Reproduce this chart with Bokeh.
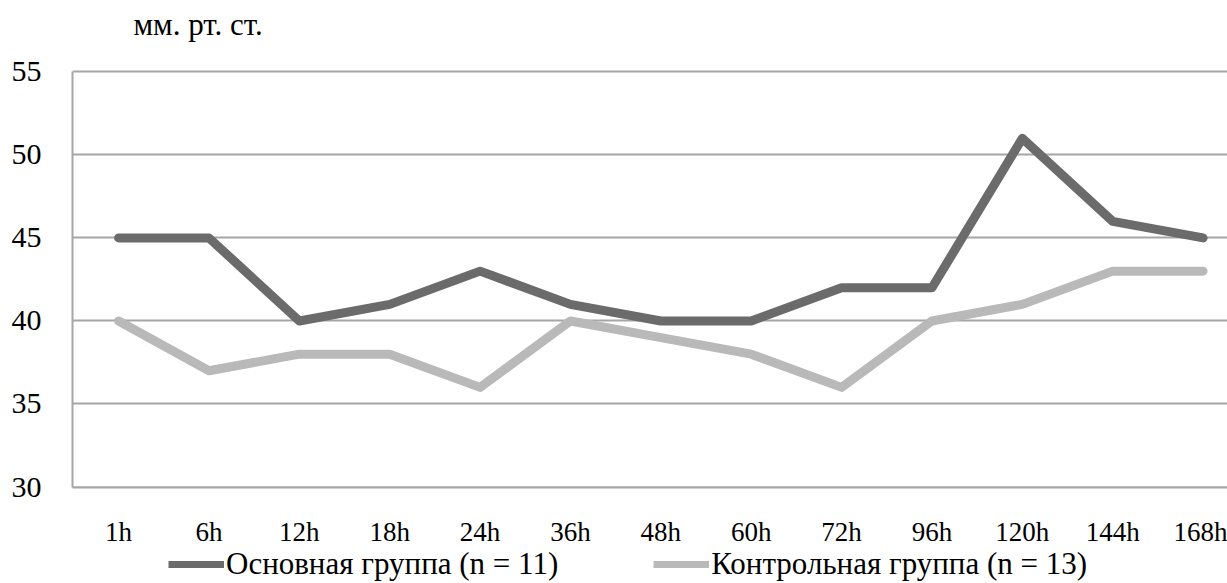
from bokeh.plotting import figure
from bokeh.layouts import column
from bokeh.models import Range1d, FixedTicker, Legend, LegendItem, Label
from bokeh.embed import file_html
from bokeh.resources import INLINE

categories = ["1h", "6h", "12h", "18h", "24h", "36h", "48h", "60h", "72h", "96h", "120h", "144h", "168h"]
main_group = [45, 45, 40, 41, 43, 41, 40, 40, 42, 42, 51, 46, 45]
control_group = [40, 37, 38, 38, 36, 40, 39, 38, 36, 40, 41, 43, 43]
y_ticks = [30, 35, 40, 45, 50, 55]
unit_label = "мм. рт. ст."
main_name = "Основная группа (n = 11)"
control_name = "Контрольная группа (n = 13)"

FONT = "Liberation Serif"
GRID = "#a6a6a6"
DARK = "#6b6b6b"
LIGHT = "#b9b9b9"

xs = list(range(len(categories)))

# main chart: frame reaches the top of the canvas so the unit label can sit inside it
p = figure(width=1227, height=543, frame_width=1155, frame_height=487,
           x_range=Range1d(-0.51, 12.27), y_range=Range1d(29.97, 59.30),
           output_backend="svg", toolbar_location=None,
           min_border_left=72, min_border_right=0, min_border_top=0, min_border_bottom=56)
p.outline_line_color = None
p.background_fill_color = "white"
p.border_fill_color = "white"

r1 = p.line(xs, main_group, line_color=DARK, line_width=9, line_join="round", line_cap="round")
r2 = p.line(xs, control_group, line_color=LIGHT, line_width=9, line_join="round", line_cap="round")

p.xgrid.visible = False
p.ygrid.ticker = FixedTicker(ticks=y_ticks)
p.ygrid.grid_line_color = GRID
p.ygrid.grid_line_width = 2

p.yaxis.ticker = FixedTicker(ticks=y_ticks)
p.yaxis.bounds = (y_ticks[0], y_ticks[-1])
p.yaxis.axis_line_color = GRID
p.yaxis.axis_line_width = 2
p.yaxis.major_tick_line_color = None
p.yaxis.minor_tick_line_color = None
p.yaxis.major_label_standoff = 25
p.yaxis.major_label_text_font = FONT
p.yaxis.major_label_text_font_size = "30px"
p.yaxis.major_label_text_color = "#000000"

p.xaxis.ticker = FixedTicker(ticks=xs)
p.xaxis.major_label_overrides = {i: c for i, c in enumerate(categories)}
p.xaxis.axis_line_color = GRID
p.xaxis.axis_line_width = 2
p.xaxis.major_tick_line_color = None
p.xaxis.minor_tick_line_color = None
p.xaxis.major_label_standoff = 23
p.xaxis.major_label_text_font = FONT
p.xaxis.major_label_text_font_size = "27px"
p.xaxis.major_label_text_color = "#000000"

unit = Label(x=61, y=463, x_units="screen", y_units="screen", text=unit_label,
             text_font=FONT, text_font_size="31px", text_color="#000000",
             text_baseline="alphabetic", text_align="left")
p.add_layout(unit)

# legend strip below the chart (renderers hold one segment outside the visible range)
q = figure(width=1227, height=40, x_axis_type=None, y_axis_type=None,
           x_range=Range1d(0, 1), y_range=Range1d(0, 1),
           output_backend="svg", toolbar_location=None,
           min_border=0, min_border_left=0, min_border_right=0, min_border_top=0, min_border_bottom=0)
q.outline_line_color = None
q.grid.visible = False
l1 = q.line(x=[-5, -4], y=[-5, -5], line_color=DARK, line_width=7)
l2 = q.line(x=[-5, -4], y=[-5, -5], line_color=LIGHT, line_width=7)
legend = Legend(items=[LegendItem(label=main_name, renderers=[l1]),
                       LegendItem(label=control_name, renderers=[l2])],
                orientation="horizontal", location=(96, 7),
                glyph_width=56, glyph_height=16, label_standoff=2, spacing=95,
                padding=0, margin=0, border_line_color=None, background_fill_alpha=0,
                label_text_font=FONT, label_text_font_size="31px", label_text_color="#000000")
q.add_layout(legend)

layout = column(p, q, spacing=0)
open("out.html", "w").write(file_html(layout, INLINE))
